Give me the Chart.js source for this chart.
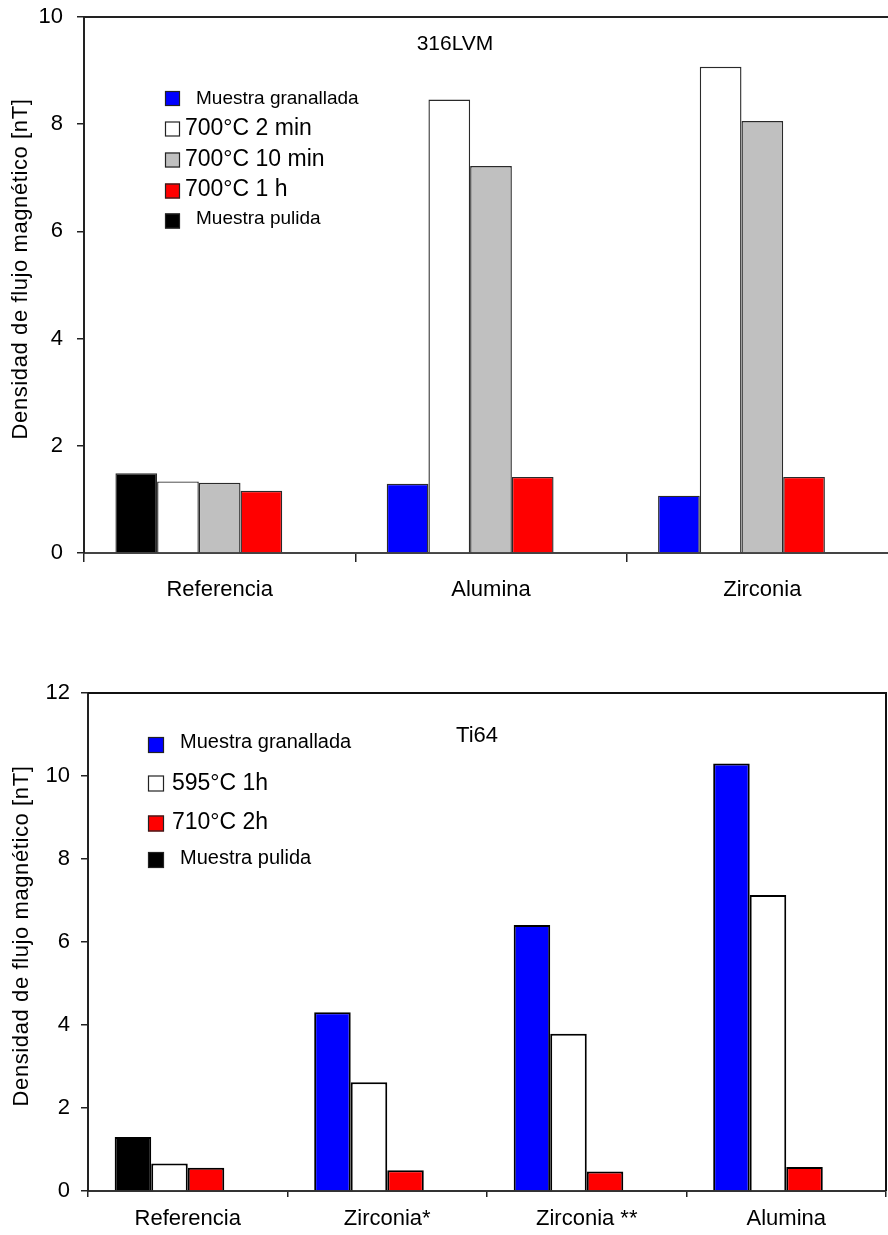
<!DOCTYPE html>
<html>
<head>
<meta charset="utf-8">
<script src="https://cdn.jsdelivr.net/npm/chart.js@4.4.1/dist/chart.umd.min.js"></script>
<style>
  html, body { margin: 0; padding: 0; background: #fff; overflow: hidden; width: 888px; height: 1235px; position: relative; }
  #steelBox { position: absolute; left: 0; top: -30px; width: 930px; height: 660px; }
  #tiBox { position: absolute; left: 0; top: 640px; width: 888px; height: 595px; }
</style>
</head>
<body>
<div id="steelBox"><canvas id="steelChart"></canvas></div>
<div id="tiBox"><canvas id="tiChart"></canvas></div>
<script>
const FONT = "'Liberation Sans', Arial, Helvetica, sans-serif";

// ---- 316LVM ----
const steelCategories = ['Referencia', 'Alumina', 'Zirconia'];
const steelShot      = [null, 1.29, 1.07];
const steelPolished  = [1.49, null, null];
const steel2min      = [1.335, 8.46, 9.07];
const steel10min     = [1.31, 7.22, 8.06];
const steel1h        = [1.16, 1.42, 1.42];
const steelAxis      = [0, 10, 2];   // min, max, step

// ---- Ti64 ----
const tiCategories = ['Referencia', 'Zirconia*', 'Zirconia **', 'Alumina'];
const tiShot       = [null, 4.31, 6.41, 10.30];
const tiPolished   = [1.30, null, null, null];
const ti595        = [0.66, 2.62, 3.79, 7.13];
const ti710        = [0.56, 0.50, 0.47, 0.58];
const tiAxis       = [0, 12, 2];

const yTitle = 'Densidad de flujo magnético [nT]';

// Box around the plot area (top edge and right edge)
const framePlugin = {
  id: 'frame',
  afterDraw(chart, args, o) {
    const { ctx, chartArea: a } = chart;
    ctx.save();
    ctx.strokeStyle = o.color;
    ctx.lineWidth = o.width;
    ctx.beginPath();
    ctx.moveTo(a.left, a.top);
    ctx.lineTo(a.right, a.top);
    if (o.right) { ctx.lineTo(a.right, a.bottom); }
    ctx.stroke();
    ctx.restore();
  }
};

// Legend drawn inside the plot area, built from the dataset labels/colours
const keyPlugin = {
  id: 'key',
  afterDraw(chart, args, o) {
    const ctx = chart.ctx;
    ctx.save();
    o.items.forEach(it => {
      const ds = chart.data.datasets[it.ds];
      const s = o.box;
      ctx.fillStyle = ds.backgroundColor;
      ctx.fillRect(o.x, it.y - s / 2, s, s);
      ctx.strokeStyle = '#222';
      ctx.lineWidth = 1.2;
      ctx.strokeRect(o.x + 0.5, it.y - s / 2 + 0.5, s - 1, s - 1);
      ctx.fillStyle = '#000';
      ctx.font = it.size + 'px ' + FONT;
      ctx.textBaseline = 'middle';
      ctx.textAlign = 'left';
      ctx.fillText(ds.label, o.x + s + it.gap, it.ty);
    });
    ctx.restore();
  }
};

// Chart name inside the plot and rotated y-axis title
const textPlugin = {
  id: 'texts',
  afterDraw(chart, args, o) {
    const ctx = chart.ctx;
    ctx.save();
    ctx.fillStyle = '#000';
    ctx.textAlign = 'center';
    ctx.textBaseline = 'middle';
    ctx.font = o.nameSize + 'px ' + FONT;
    ctx.fillText(o.name, o.nameX, o.nameY);
    ctx.translate(o.titleX, o.titleY);
    ctx.rotate(-Math.PI / 2);
    ctx.font = o.titleSize + 'px ' + FONT;
    if ('letterSpacing' in ctx) { ctx.letterSpacing = o.titleSpacing + 'px'; }
    ctx.fillText(o.title, 0, 0);
    ctx.restore();
  }
};

function scalesFor(axis, yWidth, xHeight, xTick, yTick, xPad, yPad, borderColor) {
  return {
    x: {
      stacked: true,
      offset: true,
      grid: { offset: true, drawOnChartArea: false, drawTicks: true, tickLength: xTick, color: '#222', lineWidth: 1.5 },
      border: { display: true, color: borderColor, width: 2 },
      ticks: { color: '#000', font: { family: FONT, size: 22 }, padding: xPad, maxRotation: 0, autoSkip: false },
      afterFit(s) { s.height = xHeight; }
    },
    y: {
      stacked: true,
      min: axis[0],
      max: axis[1],
      ticks: { stepSize: axis[2], color: '#000', font: { family: FONT, size: 22 }, padding: yPad },
      grid: { drawOnChartArea: false, drawTicks: true, tickLength: yTick, color: '#222', lineWidth: 1.5 },
      border: { display: true, color: '#222', width: 2 },
      afterFit(s) { s.width = yWidth; }
    }
  };
}

new Chart(document.getElementById('steelChart'), {
  type: 'bar',
  data: {
    labels: steelCategories,
    datasets: [
      { label: 'Muestra granallada', data: steelShot,     backgroundColor: '#0000ff', stack: 's1' },
      { label: 'Muestra pulida',     data: steelPolished, backgroundColor: '#000000', stack: 's1' },
      { label: '700°C 2 min',        data: steel2min,     backgroundColor: '#ffffff', stack: 's2' },
      { label: '700°C 10 min',       data: steel10min,    backgroundColor: '#c0c0c0', stack: 's3' },
      { label: '700°C 1 h',          data: steel1h,       backgroundColor: '#ff0000', stack: 's4' },
      { label: '',                   data: [],            stack: 's5' }   // empty fifth slot in each group
    ]
  },
  options: {
    responsive: true,
    maintainAspectRatio: false,
    animation: false,
    layout: { padding: { top: 47, right: 32, left: 0, bottom: 0 } },
    datasets: { bar: { categoryPercentage: 0.7685, barPercentage: 1, borderColor: '#2a2a2a', borderWidth: 1.4 } },
    scales: scalesFor(steelAxis, 84, 77, 9, 7, 15, 14, '#444'),
    plugins: {
      legend: { display: false },
      tooltip: { enabled: false },
      frame: { color: '#222', width: 2, right: true },
      key: {
        x: 165, box: 15,
        items: [
          { ds: 0, y: 128.5, ty: 129, size: 19, gap: 16 },
          { ds: 2, y: 159,   ty: 159, size: 23, gap: 5 },
          { ds: 3, y: 190,   ty: 190, size: 23, gap: 5 },
          { ds: 4, y: 221,   ty: 220, size: 23, gap: 5 },
          { ds: 1, y: 251,   ty: 249, size: 19, gap: 16 }
        ]
      },
      texts: { name: '316LVM', nameX: 455, nameY: 74, nameSize: 21,
               title: yTitle, titleX: 21, titleY: 299, titleSize: 22, titleSpacing: 0.6 }
    }
  },
  plugins: [framePlugin, keyPlugin, textPlugin]
});

new Chart(document.getElementById('tiChart'), {
  type: 'bar',
  data: {
    labels: tiCategories,
    datasets: [
      { label: 'Muestra granallada', data: tiShot,     backgroundColor: '#0000ff', stack: 's1' },
      { label: 'Muestra pulida',     data: tiPolished, backgroundColor: '#000000', stack: 's1' },
      { label: '595°C 1h',           data: ti595,      backgroundColor: '#ffffff', stack: 's2' },
      { label: '710°C 2h',           data: ti710,      backgroundColor: '#ff0000', stack: 's3' },
      { label: '',                   data: [],         stack: 's4' }   // empty fourth slot in each group
    ]
  },
  options: {
    responsive: true,
    maintainAspectRatio: false,
    animation: false,
    layout: { padding: { top: 53, right: 2, left: 0, bottom: 0 } },
    datasets: { bar: { categoryPercentage: 0.7325, barPercentage: 1, borderColor: '#000', borderWidth: 2 } },
    scales: scalesFor(tiAxis, 88, 44, 6, 7, 9, 11, '#333'),
    plugins: {
      legend: { display: false },
      tooltip: { enabled: false },
      frame: { color: '#111', width: 2, right: true },
      key: {
        x: 148, box: 16,
        items: [
          { ds: 0, y: 105,   ty: 102, size: 20, gap: 16 },
          { ds: 2, y: 143.5, ty: 144, size: 23, gap: 8 },
          { ds: 3, y: 183.5, ty: 183, size: 23, gap: 8 },
          { ds: 1, y: 220,   ty: 218, size: 20, gap: 16 }
        ]
      },
      texts: { name: 'Ti64', nameX: 477, nameY: 96, nameSize: 22,
               title: yTitle, titleX: 22, titleY: 296, titleSize: 22, titleSpacing: 0.6 }
    }
  },
  plugins: [framePlugin, keyPlugin, textPlugin]
});
</script>
</body>
</html>
